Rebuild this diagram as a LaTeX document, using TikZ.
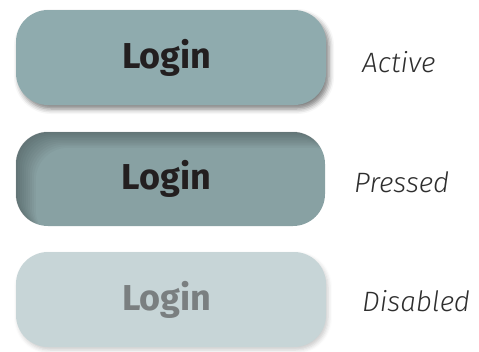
\documentclass[tikz,border=0pt]{standalone}
\usepackage{fontspec}
\usetikzlibrary{shadows.blur}
\newfontfamily\btnfont{Fira Sans}
\newfontfamily\labfont{Fira Sans Light}
\definecolor{activefill}{HTML}{8FABAE}
\definecolor{pressfill}{HTML}{88A1A3}
\definecolor{offfill}{HTML}{C7D5D7}
\definecolor{offtext}{HTML}{7A7F80}
\definecolor{ink}{HTML}{231F20}
\definecolor{labink}{HTML}{2E2E2E}
\begin{document}
\begin{tikzpicture}[x=1pt,y=-1pt,
  btn/.style={rectangle,rounded corners=32pt,minimum width=310pt,minimum height=95pt,inner sep=0pt,
    font=\btnfont\bfseries\fontsize{36}{36}\selectfont,text=ink},
  lab/.style={anchor=base west,inner sep=0pt,font=\labfont\itshape\fontsize{28}{28}\selectfont,text=labink}]
\useasboundingbox (0,0) rectangle (479,351);
% active button with drop shadow
\node [btn,fill=activefill,blur shadow={shadow xshift=3pt,shadow yshift=-4pt,shadow blur radius=5pt,shadow opacity=50}] (active) at (171,57.5) {Login\hspace*{8pt}};
% pressed button, shadow falls inside from top left
\node [btn,fill=pressfill,minimum width=309pt,minimum height=94pt] (pressed) at (170.5,179) {};
\begin{scope}
\path [clip,rounded corners=32pt] (pressed.south west) rectangle (pressed.north east);
\foreach \k in {1,...,10}
  \fill [black,opacity=0.026,even odd rule,rounded corners=32pt]
    ([shift={(-20,-20)}]pressed.north west) rectangle ([shift={(20,20)}]pressed.south east)
    ([shift={(2*\k,1.6*\k)}]pressed.south west) rectangle ([shift={(2*\k,1.6*\k)}]pressed.north east);
\end{scope}
\node [btn,fill=none,minimum width=309pt,minimum height=94pt] at (pressed) {Login\hspace*{8pt}};
% disabled button
\node [btn,fill=offfill,text=offtext,blur shadow={shadow xshift=2pt,shadow yshift=-3pt,shadow blur radius=4pt,shadow opacity=20}] (disabled) at (171,299.5) {Login\hspace*{8pt}};
% state names
\node [lab] (activelab) at (362,72.7) {Active};
\node [lab] (pressedlab) at (354,192.7) {Pressed};
\node [lab] (disabledlab) at (362,311.7) {Disabled};
\end{tikzpicture}
\end{document}
